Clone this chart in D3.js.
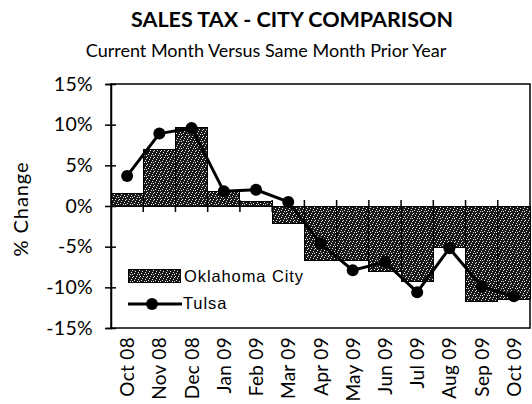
<!DOCTYPE html>
<html>
<head>
<meta charset="utf-8">
<script src="https://cdn.jsdelivr.net/npm/d3@7"></script>
<style>
  body { margin: 0; background: #fff; }
  svg { display: block; }
</style>
</head>
<body>
<svg id="chart" width="532" height="404"></svg>
<script>
const months = ['Oct 08', 'Nov 08', 'Dec 08', 'Jan 09', 'Feb 09', 'Mar 09', 'Apr 09',
  'May 09', 'Jun 09', 'Jul 09', 'Aug 09', 'Sep 09', 'Oct 09'];
const okcValues = [1.5, 6.9, 9.6, 1.8, 0.5, -2.1, -6.7, -6.7, -8.1, -9.3, -5.1, -11.8, -11.5];
const tulsaValues = [3.7, 8.9, 9.6, 1.8, 2.0, 0.5, -4.6, -7.9, -6.9, -10.6, -5.2, -9.9, -11.1];
const yTicks = [15, 10, 5, 0, -5, -10, -15];
const seriesNames = ['Oklahoma City', 'Tulsa'];

const width = 532, height = 404;
const margin = {top: 84, right: 2, bottom: 76, left: 111};

const svg = d3.select('#chart');

// speckled fill like the scanned bars
const defs = svg.append('defs');
const pat = defs.append('pattern')
  .attr('id', 'speckle')
  .attr('patternUnits', 'userSpaceOnUse')
  .attr('width', 7).attr('height', 7);
pat.append('rect').attr('width', 7).attr('height', 7).attr('fill', '#181818');
const specks = [[1, 0], [4, 1], [0, 3], [3, 3], [6, 4], [2, 5], [5, 6], [6, 1]];
pat.selectAll('rect.s')
  .data(specks)
  .enter()
  .append('rect')
  .attr('class', 's')
  .attr('x', d => d[0]).attr('y', d => d[1])
  .attr('width', 1).attr('height', 1)
  .attr('fill', '#e8e8e8');

const x = d3.scaleBand()
  .domain(months)
  .range([margin.left, width - margin.right])
  .padding(0);

const y = d3.scaleLinear()
  .domain([-15, 15])
  .range([height - margin.bottom, margin.top]);

// titles
svg.append('text')
  .attr('x', 292).attr('y', 27)
  .attr('text-anchor', 'middle')
  .attr('font-family', 'Lato, sans-serif')
  .attr('font-weight', 'bold')
  .attr('font-size', 21.5)
  .text('SALES TAX - CITY COMPARISON');

svg.append('text')
  .attr('x', 266).attr('y', 57)
  .attr('text-anchor', 'middle')
  .attr('font-family', 'Lato, sans-serif')
  .attr('font-size', 18)
  .text('Current Month Versus Same Month Prior Year');

// plot border
svg.append('rect')
  .attr('x', margin.left).attr('y', y(15))
  .attr('width', width - margin.right - margin.left)
  .attr('height', y(-15) - y(15))
  .attr('fill', 'none')
  .attr('stroke', '#000')
  .attr('stroke-width', 1.5);

// y axis
const yAxis = svg.append('g')
  .attr('transform', `translate(${margin.left},0)`)
  .call(d3.axisLeft(y).tickValues(yTicks).tickFormat(d => d + '%').tickSize(5).tickPadding(13))
  .call(g => g.select('.domain').attr('stroke-width', 1.5));
yAxis.selectAll('.tick line').attr('x2', 5).attr('x1', -6).attr('stroke-width', 1.5);
yAxis.selectAll('text')
  .attr('font-family', 'Lato, sans-serif')
  .attr('font-size', 19.5)
  .attr('letter-spacing', 0.3)
  .attr('fill', '#000');

svg.append('text')
  .attr('transform', `translate(28,${y(0) + 3}) rotate(-90)`)
  .attr('text-anchor', 'middle')
  .attr('font-family', 'Lato, sans-serif')
  .attr('font-size', 20)
  .attr('letter-spacing', 0.9)
  .text('% Change');

// category axis at 0
const xAxis = svg.append('g')
  .attr('transform', `translate(0,${y(0)})`)
  .call(d3.axisBottom(x).tickSize(0).tickFormat(''));
xAxis.select('.domain').attr('stroke-width', 1.2);
xAxis.selectAll('.tick').remove();
xAxis.selectAll('line.cross')
  .data(months.slice(1))
  .enter()
  .append('line')
  .attr('class', 'cross')
  .attr('x1', d => x(d)).attr('x2', d => x(d))
  .attr('y1', -6).attr('y2', 6)
  .attr('stroke', '#000')
  .attr('stroke-width', 1.5);

// bars
svg.append('g')
  .selectAll('rect')
  .data(okcValues)
  .enter()
  .append('rect')
  .attr('x', (d, i) => x(months[i]))
  .attr('y', d => y(Math.max(0, d)))
  .attr('width', x.bandwidth())
  .attr('height', d => Math.abs(y(d) - y(0)))
  .attr('fill', 'url(#speckle)')
  .attr('stroke', '#000')
  .attr('stroke-width', 1)
  .attr('shape-rendering', 'crispEdges');

// Tulsa line
const line = d3.line()
  .x((d, i) => x(months[i]) + x.bandwidth() / 2)
  .y(d => y(d));

svg.append('path')
  .datum(tulsaValues)
  .attr('fill', 'none')
  .attr('stroke', '#000')
  .attr('stroke-width', 3)
  .attr('stroke-linejoin', 'round')
  .attr('d', line);

svg.append('g')
  .selectAll('circle')
  .data(tulsaValues)
  .enter()
  .append('circle')
  .attr('cx', (d, i) => x(months[i]) + x.bandwidth() / 2)
  .attr('cy', d => y(d))
  .attr('r', 6)
  .attr('fill', '#000');

// month labels
svg.append('g')
  .selectAll('text')
  .data(months)
  .enter()
  .append('text')
  .attr('transform', d => `translate(${x(d) + x.bandwidth() / 2 + 7},337) rotate(-90)`)
  .attr('text-anchor', 'end')
  .attr('font-family', 'Lato, sans-serif')
  .attr('font-size', 19)
  .attr('letter-spacing', 0.3)
  .text(d => d);

// legend
const legend = svg.append('g');
legend.append('rect')
  .attr('x', 128).attr('y', 269)
  .attr('width', 52).attr('height', 13)
  .attr('fill', 'url(#speckle)')
  .attr('stroke', '#000')
  .attr('shape-rendering', 'crispEdges');
legend.append('text')
  .attr('x', 184).attr('y', 282)
  .attr('font-family', 'Liberation Sans, Arial, sans-serif')
  .attr('font-size', 16.5)
  .attr('letter-spacing', 0.9)
  .text(seriesNames[0]);
legend.append('line')
  .attr('x1', 128).attr('x2', 182)
  .attr('y1', 304).attr('y2', 304)
  .attr('stroke', '#000')
  .attr('stroke-width', 3);
legend.append('circle')
  .attr('cx', 152).attr('cy', 304).attr('r', 6).attr('fill', '#000');
legend.append('text')
  .attr('x', 183).attr('y', 309)
  .attr('font-family', 'Liberation Sans, Arial, sans-serif')
  .attr('font-size', 16.5)
  .attr('letter-spacing', 0.9)
  .text(seriesNames[1]);
</script>
</body>
</html>
